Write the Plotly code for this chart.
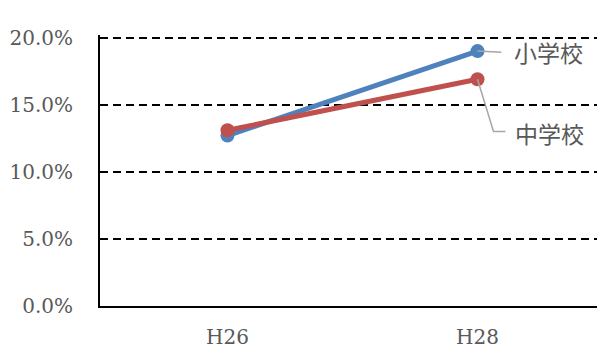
import plotly.graph_objects as go

years = ["H26", "H28"]
elementary = [0.127, 0.190]   # 小学校
junior_high = [0.131, 0.169]  # 中学校
y_ticks = [0.0, 0.05, 0.10, 0.15, 0.20]

BLUE = "#4f81bd"
RED = "#c0504d"
GRAY = "#595959"
LEADER = "#a6a6a6"
SERIF = "'DejaVu Serif', serif"
CJK = "'Noto Sans CJK JP', sans-serif"

fig = go.Figure()
fig.add_trace(go.Scatter(
    x=[0, 1], y=elementary, mode="lines+markers", name="小学校",
    line=dict(color=BLUE, width=5), marker=dict(color=BLUE, size=14),
))
fig.add_trace(go.Scatter(
    x=[0, 1], y=junior_high, mode="lines+markers", name="中学校",
    line=dict(color=RED, width=5), marker=dict(color=RED, size=14),
))

# leader lines from the last point to each series label
fig.add_trace(go.Scatter(
    x=[1, 1.096], y=[elementary[1], elementary[1] - 0.0008], mode="lines",
    line=dict(color=LEADER, width=1.5), hoverinfo="skip",
))
fig.add_trace(go.Scatter(
    x=[1, 1.064, 1.112], y=[junior_high[1], 0.130, 0.130], mode="lines",
    line=dict(color=LEADER, width=1.5), hoverinfo="skip",
))

fig.add_annotation(x=1.136, y=elementary[1] - 0.001, text="小学校", showarrow=False,
                   xanchor="left", yanchor="middle",
                   font=dict(family=CJK, size=23, color=GRAY))
fig.add_annotation(x=1.140, y=0.129, text="中学校", showarrow=False,
                   xanchor="left", yanchor="middle",
                   font=dict(family=CJK, size=23, color=GRAY))

fig.update_layout(
    width=597, height=349,
    margin=dict(l=100, r=0, t=35, b=39),
    paper_bgcolor="white", plot_bgcolor="white",
    showlegend=False,
    xaxis=dict(
        range=[-0.51, 1.478], tickmode="array", tickvals=[0, 1], ticktext=years,
        showgrid=False, zeroline=False, showline=True, linecolor="black", linewidth=2,
        ticks="", ticklabelstandoff=12,
        tickfont=dict(family=SERIF, size=20, color=GRAY),
    ),
    yaxis=dict(
        range=[0, 0.202], tickvals=y_ticks, tickformat=".1%",
        showgrid=True, gridcolor="black", gridwidth=2, griddash="8px,5px",
        zeroline=False, showline=True, linecolor="black", linewidth=2,
        ticks="", ticklabelstandoff=21,
        tickfont=dict(family=SERIF, size=20, color=GRAY),
    ),
)

fig.write_html("out.html")
